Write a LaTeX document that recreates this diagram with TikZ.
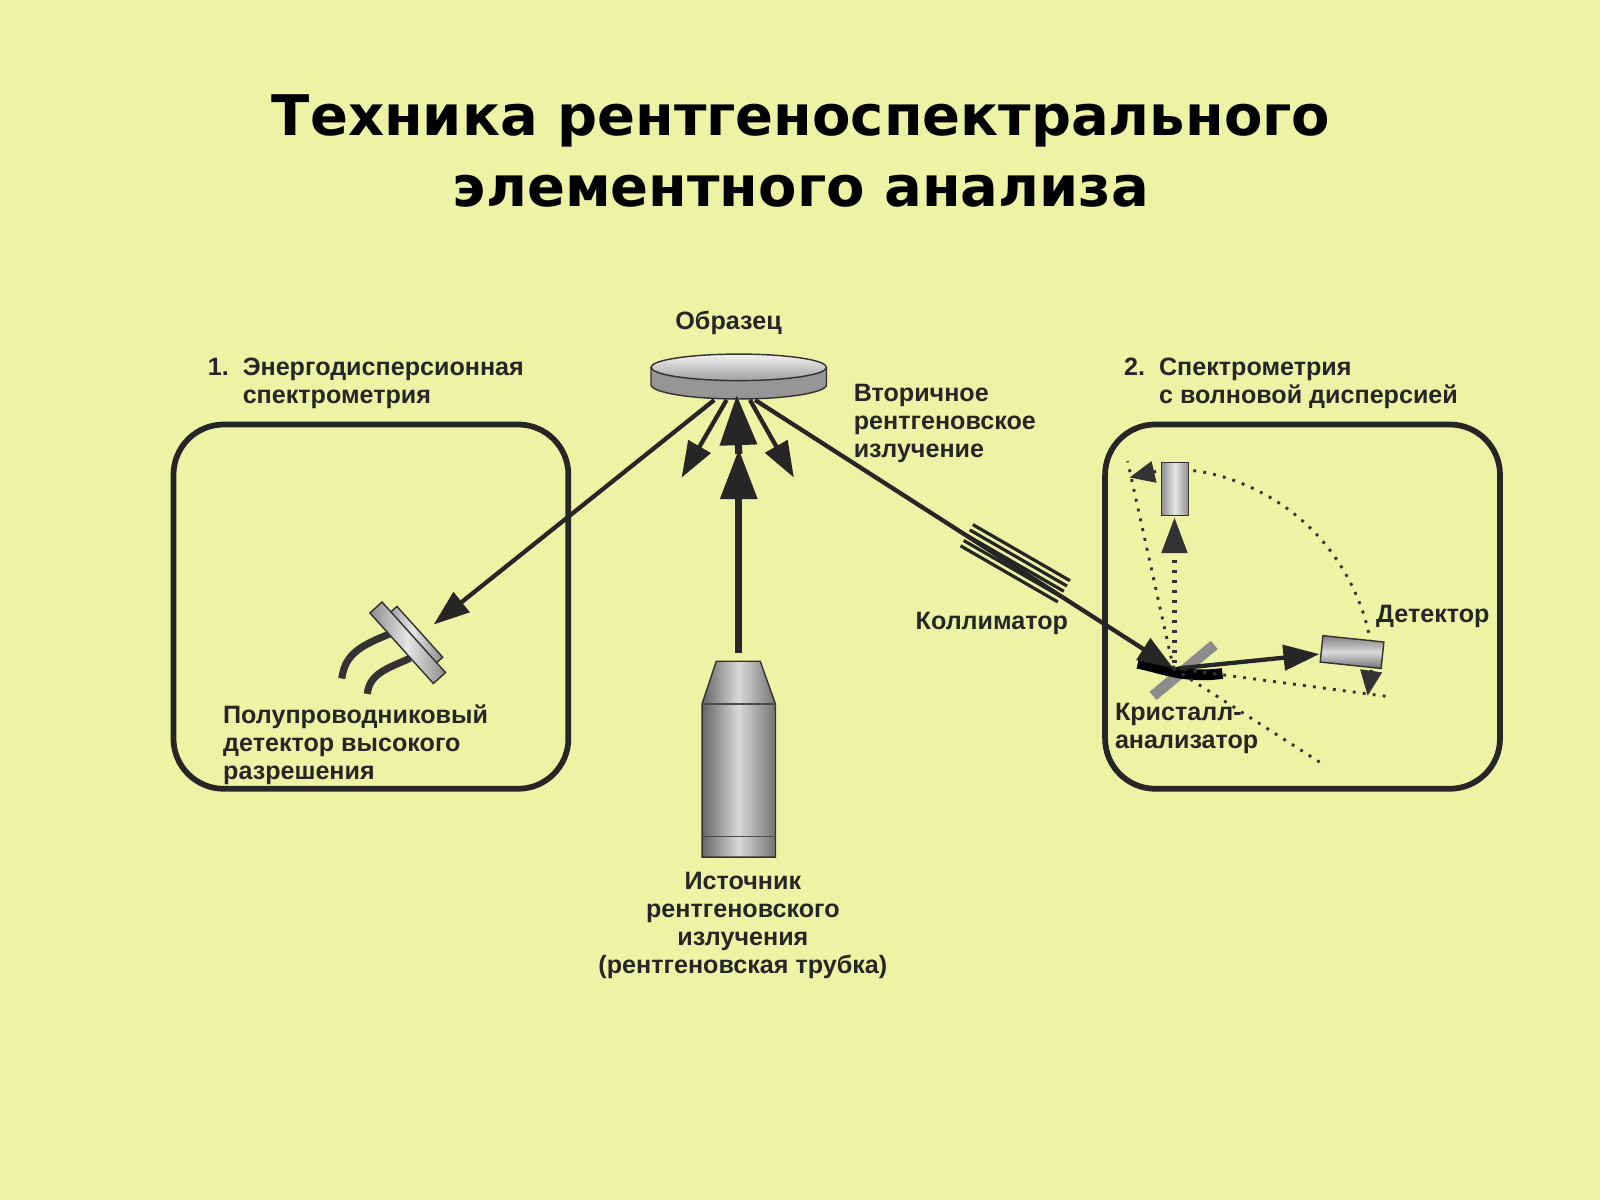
\documentclass[tikz,border=0pt]{standalone}
\usepackage{fontspec}
\setmainfont{Liberation Sans}
\newfontfamily\titlefont{DejaVu Sans}
\usetikzlibrary{arrows.meta,positioning,shapes.geometric}
\definecolor{bgyel}{RGB}{236,243,164}
\definecolor{metal}{RGB}{200,200,200}
\tikzset{
  lbl/.style={font=\bfseries\fontsize{7}{7.8}\selectfont, text=black!85, align=left, inner sep=0pt},
  box/.style={draw=black!85, line width=1.6pt, rounded corners=14},
  ray/.style={draw=black!85, line width=1.2pt},
  dot/.style={draw=black!80, line width=0.8pt, dotted},
  tip/.style={-{Triangle[length=10pt,width=7pt]}},
  bigtip/.style={-{Triangle[length=14pt,width=10pt]}},
  cyl/.style={draw=black!80, left color=black!45, right color=black!45, middle color=white!90!black},
}
\begin{document}
\begin{tikzpicture}[x=0.01cm, y=-0.01cm]
  \fill[bgyel] (0,0) rectangle (1568,1176);
  \useasboundingbox (0,0) rectangle (1568,1176);

  % title
  \node[font=\titlefont\bfseries\fontsize{15.6}{19.6}\selectfont, align=center] (title) at (785,148)
    {Техника рентгеноспектрального\\элементного анализа};

  % frames
  \draw[box] (170,416) rectangle (557,773);
  \draw[box] (1083,416) rectangle (1470,773);
  \node[lbl, anchor=north west] (ed) at (203,350) {1.\ \ Энергодисперсионная\\\phantom{1.\ \ }спектрометрия};
  \node[lbl, anchor=north west] (wd) at (1101,350) {2.\ \ Спектрометрия\\\phantom{2.\ \ }с волновой дисперсией};

  % sample
  \coordinate (hit) at (722,387);
  \fill[metal!75!black] (638,360) -- (638,377) arc (180:0:86 and 14) -- (810,360) -- cycle;
  \draw[black!80, top color=white!95!black, bottom color=metal!80!black] (724,360) ellipse (86 and 13);
  \draw[black!80] (638,360) -- (638,377) arc (180:0:86 and 14) -- (810,360);
  \node[lbl] (sample) at (714,316) {Образец};

  % tube
  \shade[left color=black!60, right color=black!55, middle color=white!85!black, draw=black!80]
    (688,840) -- (688,690) -- (702,648) -- (745,648) -- (760,690) -- (760,840) -- cycle;
  \draw[black!70] (688,690) -- (760,690);
  \draw[black!70] (688,820) -- (760,820);
  \coordinate (tubetop) at (724,640);
  \node[lbl, align=center] (source) at (728,907)
    {Источник\\рентгеновского\\излучения\\(рентгеновская трубка)};

  % primary beam
  \draw[ray, line width=2pt, bigtip] (tubetop) -- (724,440);
  \draw[ray, line width=2pt, bigtip] (724,445) -- (hit);
  \coordinate (sl) at (668,468);
  \coordinate (sr) at (778,468);
  \draw[ray, tip] (712,392) -- (sl);
  \draw[ray, tip] (735,392) -- (sr);
  \node[lbl, anchor=north west] (second) at (836,376) {Вторичное\\рентгеновское\\излучение};

  % energy dispersive detector
  \draw[black!80, line width=2pt] (385,620) .. controls (355,632) and (338,640) .. (335,665);
  \draw[black!80, line width=2pt] (402,645) .. controls (380,655) and (362,660) .. (360,680);
  \begin{scope}[shift={(405,627)}, rotate=-48]
    \draw[cyl] (-35,-10) rectangle (32,8);
    \draw[cyl] (-48,-2) rectangle (45,14);
  \end{scope}
  \coordinate (edin) at (425,612);
  \draw[ray, tip] (700,392) -- (edin);
  \node[lbl, anchor=north west] (semi) at (218,690) {Полупроводниковый\\детектор высокого\\разрешения};

  % collimator
  \begin{scope}[shift={(995,552)}, rotate=-30]
    \foreach \k in {-12,-6,0,6,12}
      \draw[black!85, line width=0.9pt] (-55,\k) -- (55,\k);
  \end{scope}
  \node[lbl] (coll) at (972,611) {Коллиматор};

  % wavelength dispersive part
  \coordinate (cr) at (1150,655);
  \draw[black!45, line width=3pt] (1130,682) -- (1190,632);
  \draw[black, line width=3pt] (1115,650) .. controls (1140,655) and (1160,665) .. (1198,660);
  \draw[ray, tip] (740,392) -- (cr);
  \draw[dot] (cr) -- (1363,683);
  \draw[dot] (cr) -- (1105,452);
  \draw[dot] (cr) -- (1295,748);
  \draw[dot, {Triangle[length=7pt,width=6pt]}-{Triangle[length=7pt,width=6pt]}]
    (1107,468) arc (257:368:192);
  \begin{scope}[shift={(1325,639)}, rotate=-6]
    \draw[cyl, top color=black!50, bottom color=black!55, middle color=white!85!black] (-30,-13) rectangle (30,13);
  \end{scope}
  \coordinate (det) at (1293,641);
  \draw[ray, tip] (1155,655) -- (det);
  \draw[cyl] (1138,453) rectangle (1165,505);
  \coordinate (det2) at (1151,507);
  \draw[dot, line width=1.4pt, tip] (1151,650) -- (det2);
  \node[lbl, anchor=west] (detl) at (1348,604) {Детектор};
  \node[lbl, anchor=north west] (crl) at (1092,688) {Кристалл-\\анализатор};
\end{tikzpicture}
\end{document}
